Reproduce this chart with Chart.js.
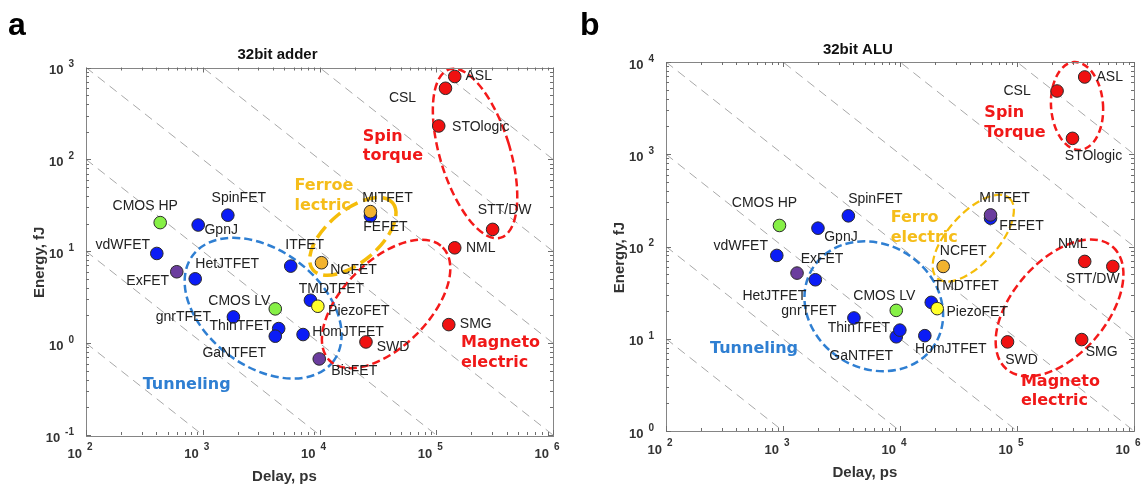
<!DOCTYPE html>
<html>
<head>
<meta charset="utf-8">
<title>Energy vs delay, 32bit adder and ALU</title>
<script src="https://cdn.jsdelivr.net/npm/chart.js"></script>
<style>
  html, body { margin: 0; padding: 0; background: #fff; }
  #wrap { position: relative; width: 1144px; height: 485px; }
  #wrap canvas { position: absolute; top: 0; }
</style>
</head>
<body>
<div id="wrap">
  <canvas id="chart-a" width="572" height="485" style="left:0"></canvas>
  <canvas id="chart-b" width="572" height="485" style="left:572px"></canvas>
</div>
<script>
/* ── Data: panel a, 32bit adder (delay in ps, energy in fJ) ── */
const namesA = ['CMOS HP', 'CMOS LV', 'vdWFET', 'GpnJ', 'SpinFET', 'HetJTFET', 'ExFET', 'ITFET',
    'gnrTFET', 'ThinTFET', 'GaNTFET', 'HomJTFET', 'TMDTFET', 'BisFET', 'FEFET', 'MITFET', 'NCFET',
    'PiezoFET', 'SWD', 'SMG', 'NML', 'STT/DW', 'STOlogic', 'CSL', 'ASL'];
const delayA = [432, 4180, 404, 914, 1640, 862, 599, 5670,
    1830, 4470, 4180, 7230, 8360, 9950, 27300, 27300, 10400,
    9680, 25000, 128000, 144000, 304000, 105000, 120000, 144000];
const energyA = [20.5, 2.36, 9.46, 19.3, 24.7, 5.01, 5.98, 6.89,
    1.93, 1.44, 1.19, 1.24, 2.93, 0.673, 24.2, 27, 7.5,
    2.52, 1.03, 1.59, 10.9, 17.3, 231, 594, 798];
const kindA = ['cmos', 'cmos', 'tfet', 'tfet', 'tfet', 'tfet', 'exciton', 'tfet',
    'tfet', 'tfet', 'tfet', 'tfet', 'tfet', 'exciton', 'tfet', 'ferro', 'ferro',
    'piezo', 'spin', 'spin', 'spin', 'spin', 'spin', 'spin', 'spin'];

/* ── Data: panel b, 32bit ALU ── */
const namesB = ['CMOS HP', 'CMOS LV', 'vdWFET', 'GpnJ', 'SpinFET', 'ExFET', 'HetJTFET', 'gnrTFET',
    'GaNTFET', 'ThinTFET', 'HomJTFET', 'TMDTFET', 'PiezoFET', 'NCFET', 'FEFET', 'MITFET',
    'SWD', 'SMG', 'NML', 'STT/DW', 'STOlogic', 'CSL', 'ASL'];
const delayB = [933, 9290, 885, 1990, 3620, 1318, 1890, 4040,
    9290, 9970, 16300, 18500, 20800, 23400, 59400, 59400,
    83000, 357000, 379000, 659000, 298000, 220000, 379000];
const energyB = [169, 20.3, 80, 158, 215, 51.5, 43.6, 16.8,
    10.5, 12.4, 10.8, 24.8, 21.2, 60.8, 203, 220,
    9.25, 9.8, 68.9, 60.8, 1487, 4850, 6880];
const kindB = ['cmos', 'cmos', 'tfet', 'tfet', 'tfet', 'exciton', 'tfet', 'tfet',
    'tfet', 'tfet', 'tfet', 'tfet', 'piezo', 'ferro', 'tfet', 'exciton',
    'spin', 'spin', 'spin', 'spin', 'spin', 'spin', 'spin'];

/* ── Axis decades (exponents of the tick labels) ── */
const xExpA = [2, 3, 4, 5, 6];
const yExpA = [-1, 0, 1, 2, 3];
const xExpB = [2, 3, 4, 5, 6];
const yExpB = [0, 1, 2, 3, 4];

/* ── Constant energy-delay product guides, fJ·ps ── */
const edpA = [1e2, 1e3, 1e4, 1e5, 1e6, 1e7, 1e8];
const edpB = [1e3, 1e4, 1e5, 1e6, 1e7, 1e8, 1e9];

/* ── Layout: label offsets from each point (px, text centre) ── */
const labelOffA = [[-15, -16], [-36, -8], [-34, -8], [23, 5], [11, -17], [32, -15], [-29, 9], [14, -21],
    [-50, 0], [-38, -2], [-41, 17], [45, -2], [21, -11], [35, 12], [15, 11], [17, -13], [32, 7],
    [41, 5], [27, 5], [27, 0], [26, 0], [12, -19], [42, 1], [-43, 10], [24, 0]];
const labelOffB = [[-15, -22], [-12, -14], [-36, -9], [23, 9], [27, -17], [25, -14], [-41, 16], [-45, -7],
    [-35, 19], [-41, -2], [26, 13], [35, -16], [40, 3], [20, -15], [31, 8], [14, -17],
    [14, 18], [20, 13], [-12, -17], [-20, 13], [21, 18], [-40, 0], [25, 0]];

/* ── Group outlines: centre in data units, radii in px, rotation in degrees ── */
const ringsA = [
    { x: 3290, y: 2.4, rx: 88, ry: 58, rot: 37, color: '#2f7fd2', width: 2.5, dash: [8, 4] },
    { x: 19300, y: 14.5, rx: 52, ry: 26, rot: -40, color: '#f5bd0a', width: 3.5, dash: [14, 6] },
    { x: 215000, y: 116, rx: 35, ry: 88, rot: -17, color: '#f41a1a', width: 2.5, dash: [8, 4] },
    { x: 37200, y: 2.67, rx: 80, ry: 43, rot: -45, color: '#f41a1a', width: 2.5, dash: [8, 4] }
];
const ringsB = [
    { x: 326000, y: 3335, rx: 26, ry: 44, rot: -4, color: '#f41a1a', width: 2.5, dash: [7, 4] },
    { x: 42300, y: 123, rx: 54, ry: 25, rot: -48, color: '#f5bd0a', width: 2.2, dash: [8, 4] },
    { x: 5970, y: 22.5, rx: 72, ry: 62, rot: 32, color: '#2f7fd2', width: 2.5, dash: [8, 4] },
    { x: 231000, y: 21.6, rx: 81, ry: 47, rot: -49, color: '#f41a1a', width: 2.5, dash: [8, 4] }
];

/* ── Group names: left edge / first line in data units ── */
const groupsA = [
    { lines: ['Spin', 'torque'], x: 23500, y: 177, color: '#f01818' },
    { lines: ['Ferroe', 'lectric'], x: 6110, y: 51.4, color: '#f5bd1a' },
    { lines: ['Tunneling'], x: 306, y: 0.351, color: '#2f7fd2' },
    { lines: ['Magneto', 'electric'], x: 163000, y: 1.0, color: '#f01818' }
];
const groupsB = [
    { lines: ['Spin', 'Torque'], x: 52600, y: 2780, color: '#f01818' },
    { lines: ['Ferro', 'electric'], x: 8320, y: 202, color: '#f5bd1a' },
    { lines: ['Tunneling'], x: 238, y: 7.87, color: '#2f7fd2' },
    { lines: ['Magneto', 'electric'], x: 108000, y: 3.42, color: '#f01818' }
];

/* ── Styles ── */
const KIND_COLORS = {
    cmos: '#86f046', tfet: '#0b1cf6', exciton: '#6b3d9e',
    ferro: '#f2b330', piezo: '#ffff2a', spin: '#f01111'
};
const FONT = '"Liberation Sans", Arial, sans-serif';
const GROUP_FONT = 'bold 16px "DejaVu Sans", Verdana, sans-serif';

const panels = [
    {
        canvas: 'chart-a', letter: 'a', title: '32bit adder',
        names: namesA, delay: delayA, energy: energyA, kind: kindA, labelOff: labelOffA,
        xExp: xExpA, yExp: yExpA, edp: edpA, rings: ringsA, groups: groupsA,
        padding: { left: 86, right: 19, top: 67.5, bottom: 50 }
    },
    {
        canvas: 'chart-b', letter: 'b', title: '32bit ALU',
        names: namesB, delay: delayB, energy: energyB, kind: kindB, labelOff: labelOffB,
        xExp: xExpB, yExp: yExpB, edp: edpB, rings: ringsB, groups: groupsB,
        padding: { left: 94, right: 10, top: 62, bottom: 54 }
    }
];

/* ── "10" with a raised exponent ── */
const drawPow = (ctx, exp, x, y, axis) => {
    const base = 'bold 13px ' + FONT;
    const sup = 'bold 10px ' + FONT;
    ctx.fillStyle = '#333';
    ctx.textBaseline = 'middle';
    if (axis === 'x') {
        ctx.font = base;
        ctx.textAlign = 'right';
        ctx.fillText('10', x - 4, y + 6);
        ctx.font = sup;
        ctx.textAlign = 'left';
        ctx.fillText(String(exp), x + 1, y - 1);
    } else {
        ctx.font = sup;
        ctx.textAlign = 'right';
        ctx.fillText(String(exp), x, y - 3);
        const w = ctx.measureText(String(exp)).width;
        ctx.font = base;
        ctx.fillText('10', x - w - 5, y + 3);
    }
};

/* ── Decorations: outlines, box, ticks, labels ── */
const decorPlugin = (p) => ({
    id: 'decor',
    beforeDatasetDraw(chart, args) {
        if (args.index !== 0) return;
        const { ctx, scales: { x, y } } = chart;
        ctx.save();
        p.rings.forEach(r => {
            ctx.beginPath();
            ctx.ellipse(x.getPixelForValue(r.x), y.getPixelForValue(r.y), r.rx, r.ry,
                r.rot * Math.PI / 180, 0, Math.PI * 2);
            ctx.strokeStyle = r.color;
            ctx.lineWidth = r.width;
            ctx.setLineDash(r.dash);
            ctx.stroke();
        });
        ctx.restore();
    },
    afterDatasetsDraw(chart) {
        const { ctx, chartArea: a, scales: { x, y } } = chart;
        ctx.save();

        // Axis box
        ctx.strokeStyle = '#858585';
        ctx.lineWidth = 1;
        ctx.strokeRect(Math.round(a.left) + 0.5, Math.round(a.top) + 0.5,
            Math.round(a.right - a.left), Math.round(a.bottom - a.top));

        // Inward ticks on all four sides
        ctx.strokeStyle = '#6d6d6d';
        ctx.beginPath();
        const tickX = (v, len) => {
            const px = Math.round(x.getPixelForValue(v)) + 0.5;
            ctx.moveTo(px, a.bottom); ctx.lineTo(px, a.bottom - len);
            ctx.moveTo(px, a.top); ctx.lineTo(px, a.top + len);
        };
        const tickY = (v, len) => {
            const py = Math.round(y.getPixelForValue(v)) + 0.5;
            ctx.moveTo(a.left, py); ctx.lineTo(a.left + len, py);
            ctx.moveTo(a.right, py); ctx.lineTo(a.right - len, py);
        };
        p.xExp.forEach((e, i) => {
            tickX(Math.pow(10, e), 5);
            if (i < p.xExp.length - 1) for (let m = 2; m <= 9; m++) tickX(m * Math.pow(10, e), 3);
        });
        p.yExp.forEach((e, i) => {
            tickY(Math.pow(10, e), 5);
            if (i < p.yExp.length - 1) for (let m = 2; m <= 9; m++) tickY(m * Math.pow(10, e), 3);
        });
        ctx.stroke();

        // Tick labels
        p.xExp.forEach(e => drawPow(ctx, e, x.getPixelForValue(Math.pow(10, e)), a.bottom + 13, 'x'));
        p.yExp.forEach(e => drawPow(ctx, e, a.left - 12, y.getPixelForValue(Math.pow(10, e)), 'y'));

        // Point labels
        const pts = chart.getDatasetMeta(0).data;
        ctx.font = '14px ' + FONT;
        ctx.fillStyle = '#222';
        ctx.textAlign = 'center';
        ctx.textBaseline = 'middle';
        p.names.forEach((n, i) => {
            ctx.fillText(n, pts[i].x + p.labelOff[i][0], pts[i].y + p.labelOff[i][1]);
        });

        // Group names
        ctx.font = GROUP_FONT;
        ctx.textAlign = 'left';
        p.groups.forEach(g => {
            const gx = x.getPixelForValue(g.x);
            const gy = y.getPixelForValue(g.y);
            ctx.fillStyle = g.color;
            g.lines.forEach((t, k) => ctx.fillText(t, gx, gy + k * 19.5));
        });

        // Titles
        const w = a.right - a.left;
        ctx.fillStyle = '#111';
        ctx.textAlign = 'center';
        ctx.font = 'bold 15px ' + FONT;
        ctx.fillText(p.title, a.left + 0.41 * w, a.top - 12.5);
        ctx.fillStyle = '#333';
        ctx.fillText('Delay, ps', a.left + 0.425 * w, a.bottom + 42);
        ctx.save();
        ctx.translate(a.left - 46, a.top + 0.53 * (a.bottom - a.top));
        ctx.rotate(-Math.PI / 2);
        ctx.fillText('Energy, fJ', 0, 0);
        ctx.restore();

        // Panel letter
        ctx.fillStyle = '#000';
        ctx.font = 'bold 32px ' + FONT;
        ctx.textAlign = 'left';
        ctx.textBaseline = 'alphabetic';
        ctx.fillText(p.letter, 8, 35);

        ctx.restore();
    }
});

/* ── Build one panel ── */
const renderPanel = (p) => {
    const ctx = document.getElementById(p.canvas).getContext('2d');
    const xMin = Math.pow(10, p.xExp[0]);
    const xMax = Math.pow(10, p.xExp[p.xExp.length - 1]);

    // Dashed guide lines E = EDP / D across the whole delay range
    const guides = p.edp.map(c => ({
        type: 'line',
        data: [{ x: xMin, y: c / xMin }, { x: xMax, y: c / xMax }],
        borderColor: '#a8a8a8',
        borderWidth: 1,
        borderDash: [9, 6],
        pointRadius: 0,
        order: 1
    }));

    new Chart(ctx, {
        type: 'scatter',
        data: {
            datasets: [{
                data: p.delay.map((d, i) => ({ x: d, y: p.energy[i] })),
                pointRadius: 6.3,
                pointBorderWidth: 1,
                pointBorderColor: '#2a2a2a',
                pointBackgroundColor: p.kind.map(k => KIND_COLORS[k]),
                order: 0
            }, ...guides]
        },
        options: {
            responsive: false,
            animation: false,
            layout: { padding: p.padding },
            plugins: {
                legend: { display: false },
                tooltip: { enabled: false }
            },
            scales: {
                x: { type: 'logarithmic', min: xMin, max: xMax, display: false },
                y: {
                    type: 'logarithmic',
                    min: Math.pow(10, p.yExp[0]),
                    max: Math.pow(10, p.yExp[p.yExp.length - 1]),
                    display: false
                }
            }
        },
        plugins: [decorPlugin(p)]
    });
};

panels.forEach(renderPanel);
</script>
</body>
</html>
